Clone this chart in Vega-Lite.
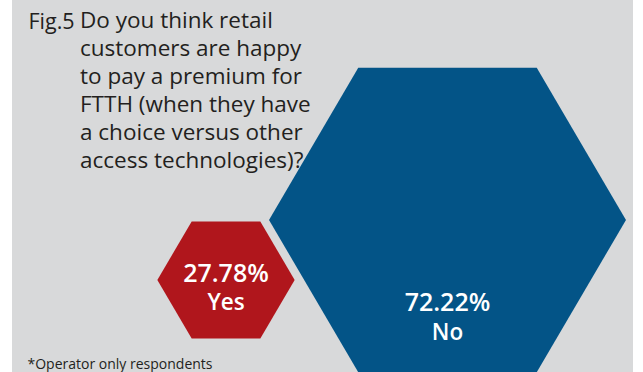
{
  "$schema": "https://vega.github.io/schema/vega-lite/v6.json",
  "width": 621,
  "height": 372,
  "autosize": "none",
  "padding": {"left": 12, "right": 10, "top": 0, "bottom": 0},
  "background": "#ffffff",
  "view": {"fill": "#d8d9da", "stroke": null},
  "title": {
    "text": ["Do you think retail", "customers are happy", "to pay a premium for", "FTTH (when they have", "a choice versus other", "access technologies)?"],
    "anchor": "start",
    "frame": "group",
    "orient": "top",
    "offset": -172,
    "dx": 68,
    "font": "Open Sans",
    "fontSize": 22.5,
    "fontWeight": "normal",
    "color": "#231f20",
    "lineHeight": 28
  },
  "data": {"values": [
    {"answer": "Yes", "value": 27.78, "label": "27.78%"},
    {"answer": "No", "value": 72.22, "label": "72.22%"}
  ]},
  "layer": [
    {
      "mark": {"type": "point", "filled": true, "opacity": 1, "strokeWidth": 0, "shape": "M-1,0L-0.5,-0.853L0.5,-0.853L1,0L0.5,0.853L-0.5,0.853Z"},
      "encoding": {
        "x": {"field": "answer", "type": "nominal", "scale": {"domain": ["Yes", "No"], "range": [214, 435.5], "padding": 0},
          "axis": {"title": "*Operator only respondents", "orient": "bottom", "labels": false, "ticks": false, "domain": false, "grid": false, "titleX": 15, "titleY": -4, "titleAlign": "left", "titleAnchor": "start", "titleBaseline": "alphabetic", "titleFont": "Open Sans", "titleFontSize": 14, "titleFontWeight": "normal", "titleColor": "#231f20"}},
        "y": {"field": "answer", "type": "nominal", "scale": {"domain": ["Yes", "No"], "range": [280, 220], "padding": 0},
          "axis": {"title": "Fig.5", "orient": "left", "labels": false, "ticks": false, "domain": false, "grid": false, "titleAngle": 0, "titleX": 16, "titleY": 28, "titleAlign": "left", "titleBaseline": "alphabetic", "titleFont": "Open Sans", "titleFontSize": 21.5, "titleFontWeight": "normal", "titleColor": "#231f20"}},
        "size": {"field": "value", "type": "quantitative", "scale": {"type": "pow", "exponent": 2, "domain": [0, 100], "range": [0, 244300]}, "legend": null},
        "color": {"field": "answer", "type": "nominal", "scale": {"domain": ["Yes", "No"], "range": ["#b0161c", "#035487"]}, "legend": null}
      }
    },
    {
      "mark": {"type": "text", "font": "Open Sans", "fontSize": 25, "fontWeight": 600, "color": "#ffffff", "align": "center", "baseline": "alphabetic"},
      "encoding": {
        "x": {"field": "answer", "type": "nominal"},
        "y": {"field": "answer", "type": "nominal", "scale": {"domain": ["Yes", "No"], "range": [281.5, 311], "padding": 0}, "axis": null},
        "text": {"field": "label"}
      }
    },
    {
      "mark": {"type": "text", "font": "Open Sans", "fontSize": 22.5, "fontWeight": 600, "color": "#ffffff", "align": "center", "baseline": "alphabetic"},
      "encoding": {
        "x": {"field": "answer", "type": "nominal"},
        "y": {"field": "answer", "type": "nominal", "scale": {"domain": ["Yes", "No"], "range": [310, 340], "padding": 0}, "axis": null},
        "text": {"field": "answer"}
      }
    }
  ],
  "resolve": {"scale": {"y": "independent"}}
}
